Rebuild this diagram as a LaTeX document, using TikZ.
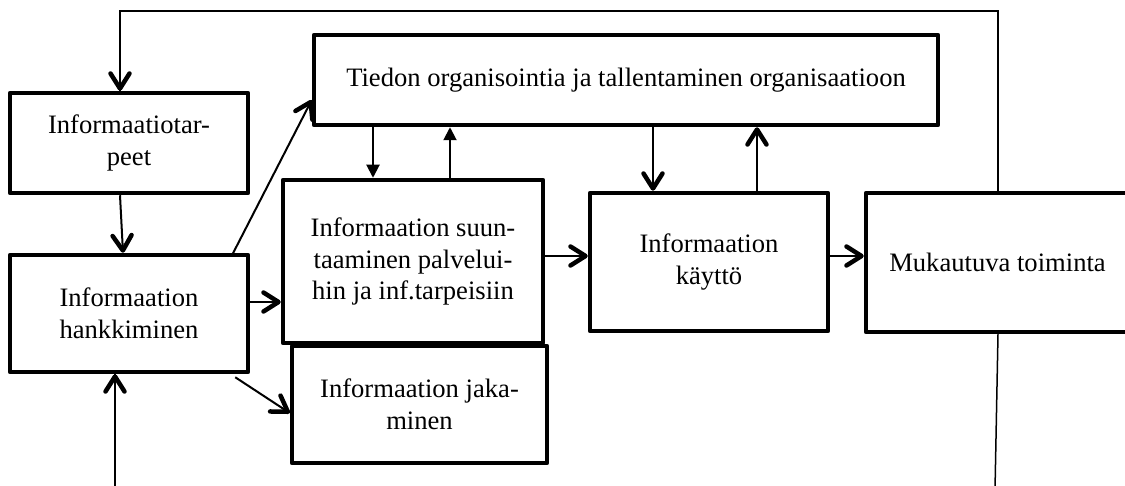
\documentclass[tikz,border=0pt]{standalone}
\usepackage{fontspec}
\setmainfont{Liberation Serif}
\usetikzlibrary{arrows.meta}
\begin{document}
\begin{tikzpicture}[x=1pt,y=-1pt,
  box/.style={draw=black,line width=4.5pt,rectangle,line join=round,inner sep=0pt,
    align=center,font=\fontsize{26.6}{31.5}\selectfont,
    execute at begin node={\vspace*{7pt}}},
  conn/.style={line width=2pt,-{Straight Barb[length=15pt,width=19pt,line width=4.5pt,round]}},
  tconn/.style={line width=2pt,-{Triangle[length=13pt,width=13pt]}},
  fb/.style={line width=1.5pt}]
\useasboundingbox (0,0) rectangle (1125,486);
\node[box,minimum width=238pt,minimum height=100pt] (A) at (129,143) {Informaatiotar-\\peet};
\node[box,minimum width=238pt,minimum height=117pt] (B) at (129,313.5) {Informaation\\hankkiminen};
\node[box,minimum width=624pt,minimum height=90pt] (C) at (626,80) {Tiedon organisointia ja tallentaminen organisaatioon};
\node[box,minimum width=260pt,minimum height=163pt] (D) at (413,261.5) {Informaation suun-\\taaminen palvelui-\\hin ja inf.tarpeisiin};
\node[box,minimum width=255pt,minimum height=117pt] (E) at (419.5,404.5) {Informaation jaka-\\minen};
\node[box,minimum width=238pt,minimum height=138pt] (F) at (709,262) {Informaation\\käyttö};
\node[box,minimum width=263pt,minimum height=139pt] (G) at (997.5,262.5) {Mukautuva toiminta};
% helper coordinates
\coordinate (t1) at (998,11);
\coordinate (t2) at (120,11);
\coordinate (b1) at (995,490);
\coordinate (b2) at (115,490);
\coordinate (xa) at (373,0);
\coordinate (xb) at (450,0);
\coordinate (xc) at (653,0);
\coordinate (xd) at (757,0);
\coordinate (ya) at (0,256);
\coordinate (yb) at (0,302);
% feedback lines
\draw[fb] (G.north -| t1) -- (t1) -- (t2) -- (A.north -| t2);
\draw[conn] (t2) ++(0,60) -- (A.north -| t2);
\draw[fb] (G.south -| t1) -- (b1);
\draw[fb] (b2) -- (B.south -| b2);
\draw[conn] (b2) ++(0,-80) -- (B.south -| b2);
% main connectors
\draw[conn] ([xshift=-9pt]A.south) -- ([xshift=-6pt]B.north);
\draw[conn] ([xshift=-18pt,yshift=-2pt]B.north east) -- ([yshift=-20pt]C.west);
\draw[conn] (B.east |- yb) -- (D.west |- yb);
\draw[conn] ([xshift=-15pt,yshift=-3pt]B.south east) -- ([yshift=-8.5pt]E.west);
\draw[tconn] (C.south -| xa) -- (D.north -| xa);
\draw[tconn] (D.north -| xb) -- (C.south -| xb);
\draw[conn] (C.south -| xc) -- (F.north -| xc);
\draw[conn] (F.north -| xd) -- (C.south -| xd);
\draw[conn] (D.east |- ya) -- (F.west |- ya);
\draw[conn] (F.east |- ya) -- (G.west |- ya);
\end{tikzpicture}
\end{document}
